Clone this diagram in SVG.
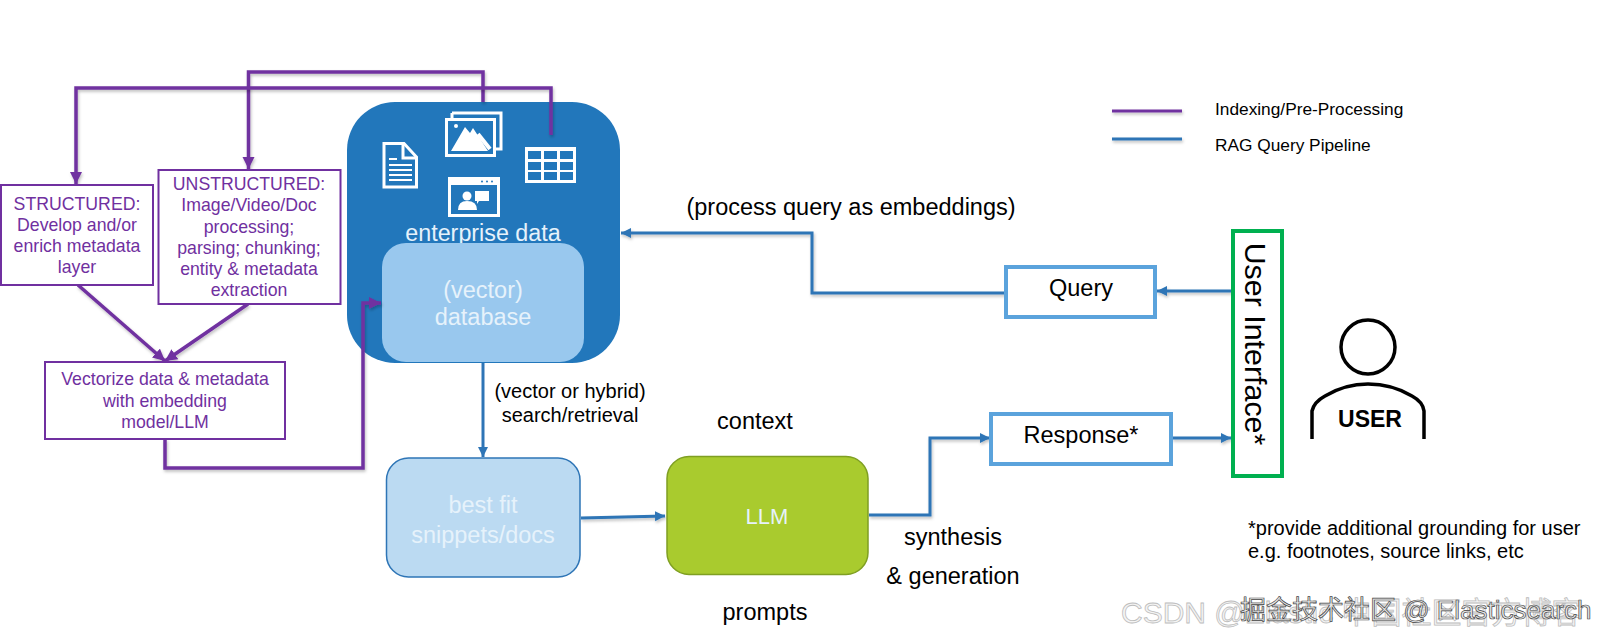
<svg xmlns="http://www.w3.org/2000/svg" width="1600" height="640" viewBox="0 0 1600 640">
<style>
text{font-family:"Liberation Sans",Arial,sans-serif;text-anchor:middle;fill:#000}
.p{font-size:17.7px;fill:#7030a0}
.w{fill:#e6f2fb;font-size:23.500px}
.k{font-size:23.500px}
.s{font-size:20px}
.l{font-size:17.300px;text-anchor:start}
.box{fill:#fff;stroke:#7030a0;stroke-width:2}
.q{fill:#fff;stroke:#5ba3dc;stroke-width:4}
.pl{fill:none;stroke:#7030a0;stroke-width:3.500}
.bl{fill:none;stroke:#2e75b6;stroke-width:3}
.ic{fill:none;stroke:#fff;stroke-width:3}
.if{fill:#fff}
</style>
<defs>
<marker id="ap" markerUnits="userSpaceOnUse" markerWidth="14" markerHeight="14" refX="12" refY="6" orient="auto"><path d="M0 0L12 6L0 12z" fill="#7030a0"/></marker>
<marker id="ab" markerUnits="userSpaceOnUse" markerWidth="12" markerHeight="12" refX="10" refY="5" orient="auto"><path d="M0 0L10 5L0 10z" fill="#2e75b6"/></marker>
<filter id="sh" filterUnits="userSpaceOnUse" x="0" y="0" width="1600" height="640"><feDropShadow dx="1" dy="2" stdDeviation="1.500" flood-color="#000" flood-opacity=".25"/></filter>
</defs>

<g id="enterprise-data">
<rect x="347" y="102" width="273" height="261" rx="48" fill="#2277bb"/>
<g id="icon-doc">
<path class="ic" d="M384 143.500H404L416.500 157V187H384z"/><path class="ic" d="M403 144V158H416" stroke-width="2"/>
<path d="M389 159h8M389 165h23M389 170h23M389 175h23M389 180h23" stroke="#fff" stroke-width="2"/>
</g>
<g id="icon-images">
<path class="ic" d="M452 113H501V149H495M452 113V119"/>
<rect class="ic" x="446.500" y="119.500" width="48" height="36"/>
<path class="if" d="M451 151L465 127L470 133L473 128L488 151z"/><circle class="if" cx="456" cy="126" r="2"/>
<path d="M478 134L490 149" stroke="#fff" stroke-width="4"/>
</g>
<g id="icon-table">
<rect x="525" y="147" width="51" height="36" fill="#fff"/>
<path d="M528 151h13v8h-13zM544 151h13v8h-13zM560 151h13v8h-13zM528 162h13v8h-13zM544 162h13v8h-13zM560 162h13v8h-13zM528 172h13v8h-13zM544 172h13v8h-13zM560 172h13v8h-13z" fill="#2277bb"/>
</g>
<g id="icon-video">
<rect class="ic" x="449.500" y="178.500" width="49" height="37"/><rect x="449" y="178" width="50" height="7" fill="#fff"/>
<circle cx="482" cy="181.500" r="1" fill="#2277bb"/><circle cx="487" cy="181.500" r="1" fill="#2277bb"/><circle cx="492" cy="181.500" r="1" fill="#2277bb"/>
<circle class="if" cx="467" cy="196" r="4.500"/><path class="if" d="M458 210Q458 201 467 201Q477 201 477 210z"/><path class="if" d="M475 191H489V201H479L477 204V201H475z"/>
</g>
<text x="483" y="241" class="w" style="font-size:23.300px">enterprise data</text>
<g id="database">
<rect x="382" y="243" width="202" height="119" rx="24" fill="#99c8ee"/>
<text x="483" y="298" class="w">(vector)</text>
<text x="483" y="325" class="w">database</text>
</g>
</g>

<g id="connectors">
<path class="pl" marker-end="url(#ap)" d="M483 102V72H248.500V169" filter="url(#sh)"/>
<path class="pl" marker-end="url(#ap)" d="M551 135V88H76V184" filter="url(#sh)"/>
<path class="pl" marker-end="url(#ap)" d="M78 285L165 361" filter="url(#sh)"/>
<path class="pl" marker-end="url(#ap)" d="M248 304L165 361" filter="url(#sh)"/>
<path class="pl" marker-end="url(#ap)" d="M165 439V468H363V303H381" filter="url(#sh)"/>
<path class="bl" marker-end="url(#ab)" d="M483 363V457"/>
<path class="bl" marker-end="url(#ab)" d="M581 518L665 516" filter="url(#sh)"/>
<path class="bl" marker-end="url(#ab)" d="M869 515H930V438H990" filter="url(#sh)"/>
<path class="bl" marker-end="url(#ab)" d="M1172 438H1231" filter="url(#sh)"/>
<path class="bl" marker-end="url(#ab)" d="M1232 291H1157" filter="url(#sh)"/>
<path class="bl" marker-end="url(#ab)" d="M1006 293H812V233H621" filter="url(#sh)"/>
</g>

<g id="structured">
<rect class="box" x="1" y="185" width="152" height="100"/>
<text class="p" x="77" y="210">STRUCTURED:</text><text class="p" x="77" y="231">Develop and/or</text><text class="p" x="77" y="252">enrich  metadata</text><text class="p" x="77" y="273">layer</text>
</g>
<g id="unstructured">
<rect class="box" x="158.500" y="170" width="182" height="134"/>
<text class="p" x="249" y="190">UNSTRUCTURED:</text><text class="p" x="249" y="211">Image/Video/Doc</text><text class="p" x="249" y="233">processing;</text><text class="p" x="249" y="254">parsing; chunking;</text><text class="p" x="249" y="275">entity &amp; metadata</text><text class="p" x="249" y="296">extraction</text>
</g>
<g id="vectorize">
<rect class="box" x="45" y="362" width="240" height="77"/>
<text class="p" x="165" y="385">Vectorize data &amp; metadata</text><text class="p" x="165" y="407">with embedding</text><text class="p" x="165" y="428">model/LLM</text>
</g>
<g id="best-fit">
<rect x="386.500" y="458" width="193.500" height="119" rx="22" fill="#bbdaf2" stroke="#2e75b6" stroke-width="1.500"/>
<text x="483" y="513" class="w">best fit</text><text x="483" y="543" class="w">snippets/docs</text>
</g>
<g id="llm">
<rect x="667" y="456.500" width="201" height="118" rx="22" fill="#a9cb2e" stroke="#7f9f22" stroke-width="1.500"/>
<text x="767" y="524" class="w" style="font-size:22px">LLM</text>
</g>
<g id="query">
<rect class="q" x="1006" y="267" width="149" height="50"/>
<text x="1081" y="296" class="k">Query</text>
</g>
<g id="response">
<rect class="q" x="991" y="414" width="180" height="50"/>
<text x="1081" y="443" class="k">Response*</text>
</g>
<g id="user-interface">
<rect x="1233" y="231" width="49" height="245" fill="#fff" stroke="#00b050" stroke-width="4"/>
<text transform="translate(1245 344) rotate(90)" style="font-size:30.400px">User Interface*</text>
</g>
<g id="user">
<circle cx="1368" cy="347" r="27" fill="none" stroke="#000" stroke-width="3.500"/>
<path d="M1312 439V411Q1314 402 1325 396Q1345 384 1368 384Q1392 384 1412 396Q1423 402 1424 411V439" fill="none" stroke="#000" stroke-width="3.500"/>
<text x="1370" y="427" style="font-size:23px;font-weight:bold">USER</text>
</g>

<g id="labels">
<text x="851" y="215" class="k">(process query as embeddings)</text>
<text x="570" y="398" class="s">(vector or hybrid)</text>
<text x="570" y="422" class="s">search/retrieval</text>
<text x="755" y="429" class="k">context</text>
<text x="953" y="545" class="k">synthesis</text>
<text x="953" y="584" class="k">&amp; generation</text>
<text x="765" y="620" class="k">prompts</text>
<text x="1248" y="535" class="s" style="text-anchor:start">*provide additional grounding for user</text>
<text x="1248" y="558" class="s" style="text-anchor:start">e.g. footnotes, source links, etc</text>
</g>

<g id="legend">
<path d="M1112 111H1182" fill="none" stroke="#7030a0" stroke-width="3" filter="url(#sh)"/>
<path d="M1112 139H1182" fill="none" stroke="#2e75b6" stroke-width="3" filter="url(#sh)"/>
<text x="1215" y="115" class="l">Indexing/Pre-Processing</text>
<text x="1215" y="151" class="l">RAG Query Pipeline</text>
</g>

<g id="watermark">
<text x="1121" y="623" style="font-family:'Liberation Sans','Noto Sans CJK SC',sans-serif;font-size:30px;text-anchor:start;fill:#f4f4f4;stroke:#bdbdbd;stroke-width:.8">CSDN @Elastic 中国社区官方博客</text>
<text x="1240" y="619" style="font-family:'Liberation Sans','Noto Sans CJK SC',sans-serif;font-size:26px;text-anchor:start;fill:#e8e8e8;stroke:#444;stroke-width:.7">掘金技术社区 @ Elasticsearch</text>
</g>
</svg>
